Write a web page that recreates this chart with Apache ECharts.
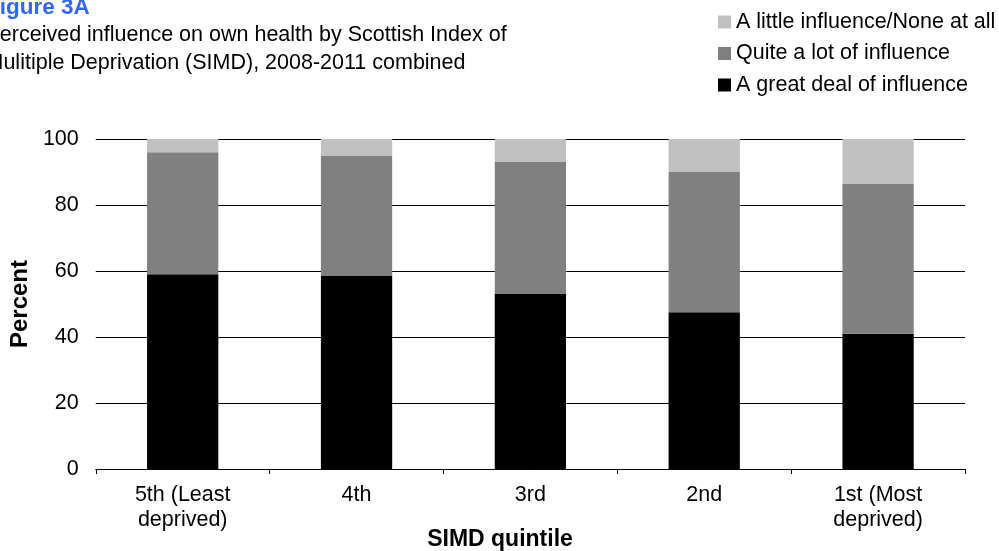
<!DOCTYPE html>
<html>
<head>
<meta charset="utf-8">
<script src="https://cdn.jsdelivr.net/npm/echarts@6/dist/echarts.min.js"></script>
<style>html,body{margin:0;padding:0;background:#fff;}#c{width:999px;height:551px;}</style>
</head>
<body>
<div id="c"></div>
<script>
const categories = ['5th (Least\ndeprived)', '4th', '3rd', '2nd', '1st (Most\ndeprived)'];
const greatDeal = [59, 58.5, 53, 47.5, 41];
const quiteALot = [37, 36.5, 40, 42.5, 45.4];
const littleNone = [4, 5, 7, 10, 13.6];
const seriesNames = ['A great deal of influence', 'Quite a lot of influence', 'A little influence/None at all'];

const FONT = 'Liberation Sans';
const FS = 21.5;
const chart = echarts.init(document.getElementById('c'), null, {renderer: 'canvas'});
chart.setOption({
  animation: false,
  backgroundColor: '#fff',
  textStyle: {fontFamily: FONT},
  graphic: [
    {type: 'text', x: -14, y: 7.5, style: {text: 'Figure 3A', fontFamily: FONT, fontWeight: 'bold', fontSize: 22.5, fill: '#3366FF', verticalAlign: 'middle'}},
    {type: 'text', x: -14.5, y: 35.5, style: {text: 'Perceived influence on own health by Scottish Index of', fontFamily: FONT, fontSize: FS, fill: '#000', verticalAlign: 'middle'}},
    {type: 'text', x: -14.5, y: 63, style: {text: 'Mulitiple Deprivation (SIMD), 2008-2011 combined', fontFamily: FONT, fontSize: FS, fill: '#000', verticalAlign: 'middle'}},
    {type: 'text', x: 500, y: 540, style: {text: 'SIMD quintile', fontFamily: FONT, fontWeight: 'bold', fontSize: 23, fill: '#000', align: 'center', verticalAlign: 'middle'}}
  ],
  legend: {
    orient: 'vertical',
    left: 713,
    top: 6,
    itemWidth: 13,
    itemHeight: 13,
    itemGap: 9.5,
    icon: 'rect',
    data: [seriesNames[2], seriesNames[1], seriesNames[0]],
    textStyle: {fontFamily: FONT, fontSize: FS, color: '#000', lineHeight: 22}
  },
  grid: {left: 95, right: 34, top: 139, bottom: 82},
  xAxis: {
    type: 'category',
    data: categories,
    axisLine: {lineStyle: {color: '#000', width: 1}},
    axisTick: {show: true, length: 5, lineStyle: {color: '#000'}},
    axisLabel: {fontFamily: FONT, fontSize: FS, color: '#000', margin: 14, lineHeight: 25, interval: 0}
  },
  yAxis: {
    type: 'value',
    min: 0, max: 100, interval: 20,
    name: 'Percent',
    nameLocation: 'middle',
    nameGap: 62,
    nameTextStyle: {fontFamily: FONT, fontWeight: 'bold', fontSize: 24, color: '#000'},
    axisLine: {show: false},
    axisTick: {show: false},
    axisLabel: {fontFamily: FONT, fontSize: FS, color: '#000', margin: 17},
    splitLine: {lineStyle: {color: '#000', width: 1}}
  },
  series: [
    {name: seriesNames[0], type: 'bar', stack: 's', data: greatDeal, barWidth: '41%', itemStyle: {color: '#000000'}},
    {name: seriesNames[1], type: 'bar', stack: 's', data: quiteALot, barWidth: '41%', itemStyle: {color: '#808080'}},
    {name: seriesNames[2], type: 'bar', stack: 's', data: littleNone, barWidth: '41%', itemStyle: {color: '#C0C0C0'}}
  ]
});
</script>
</body>
</html>
